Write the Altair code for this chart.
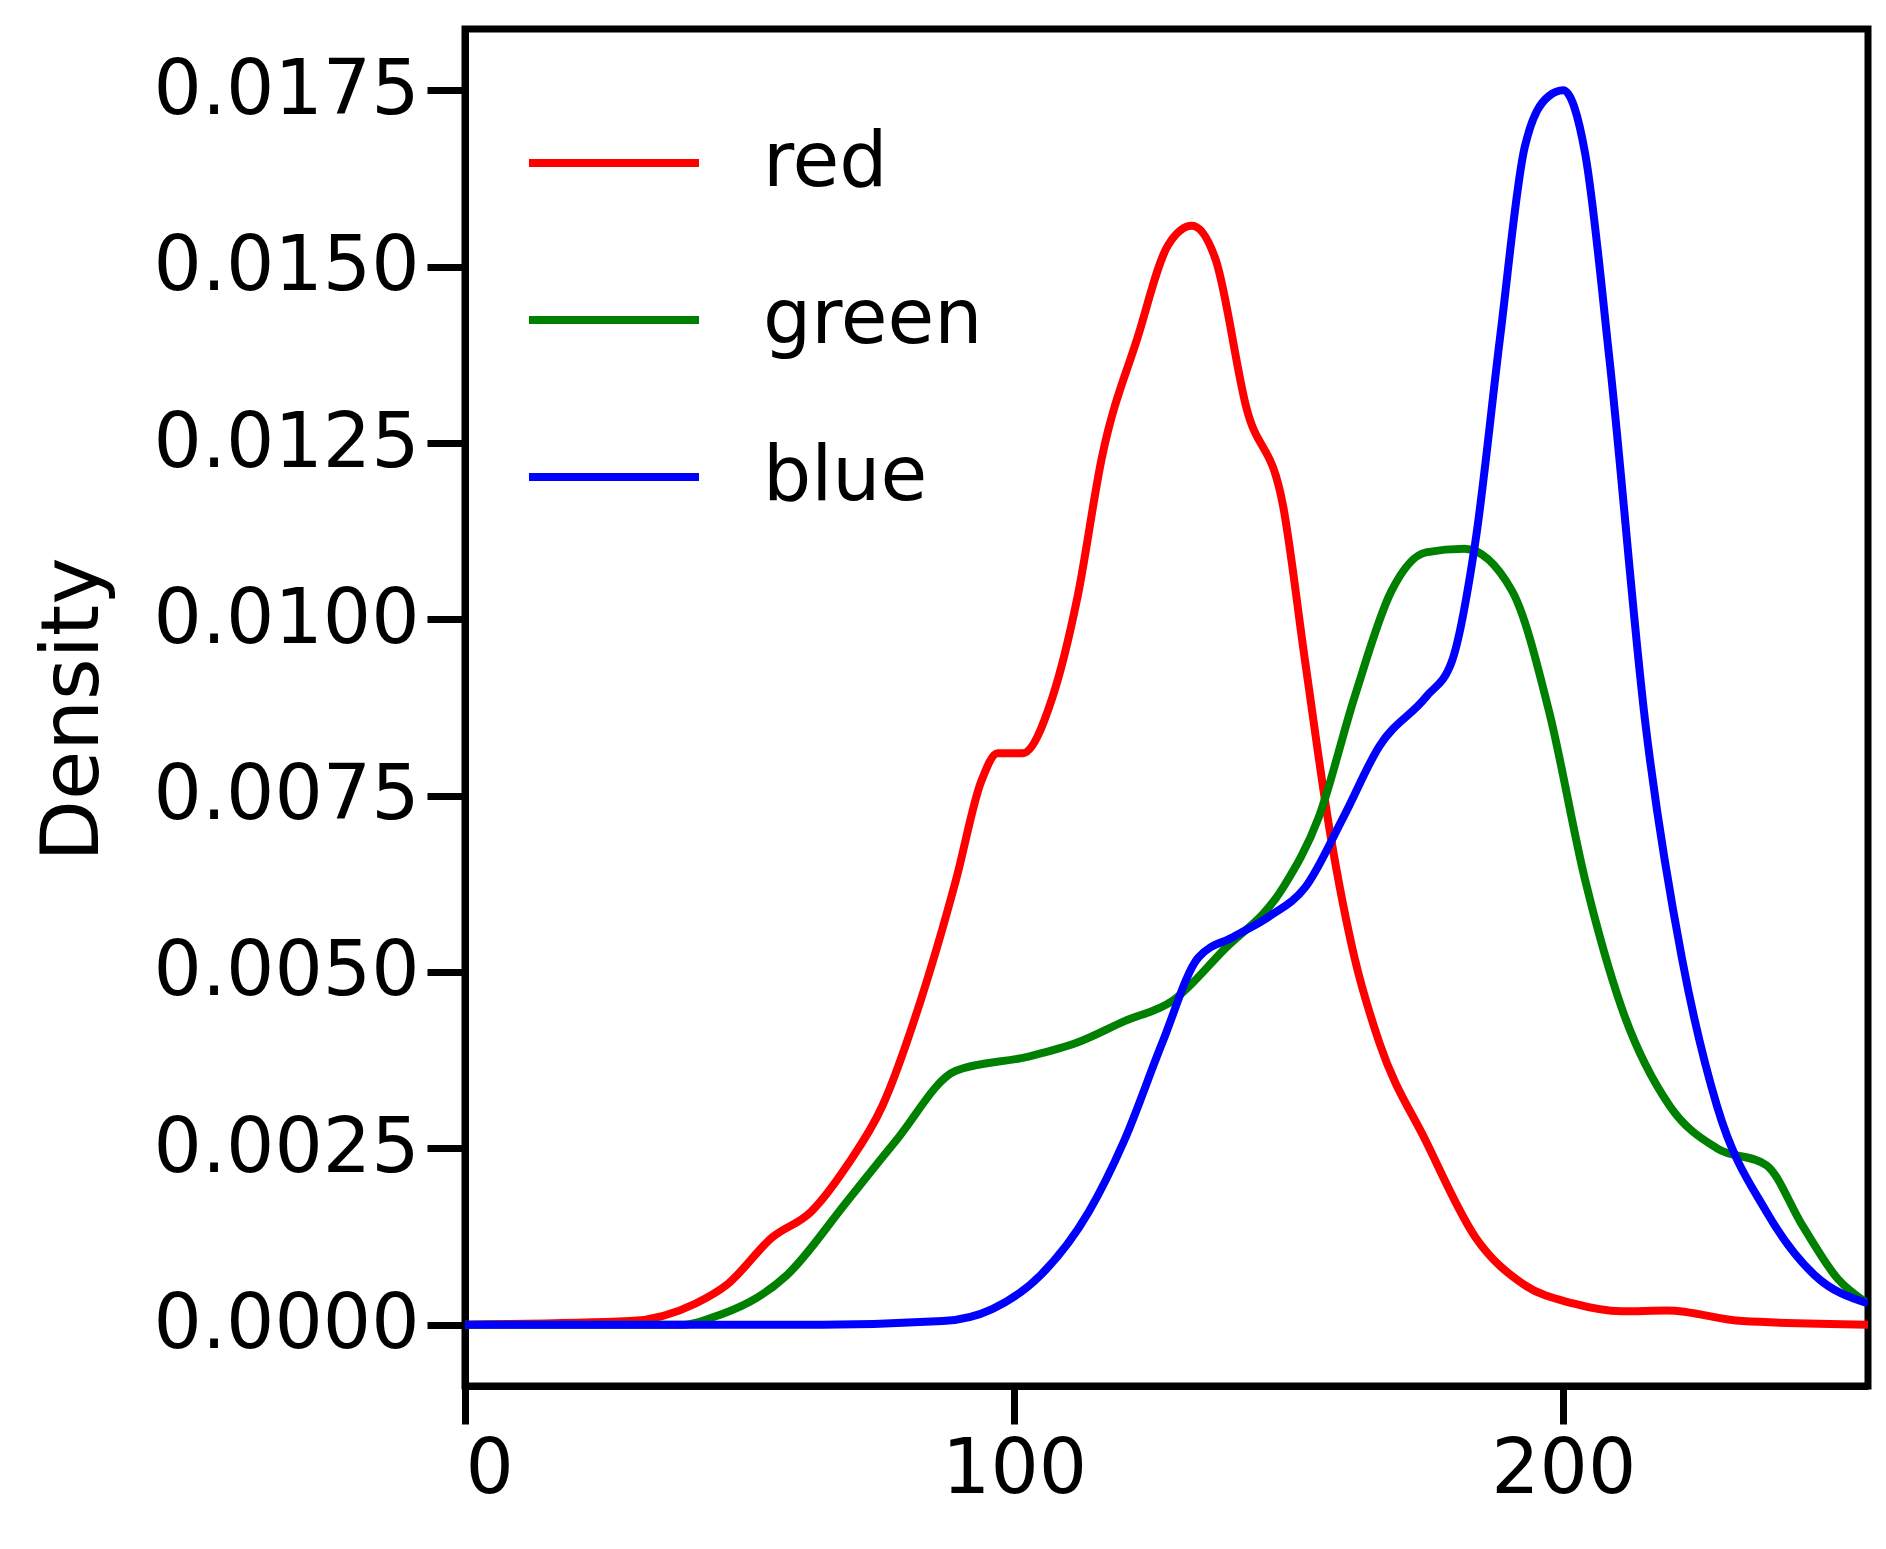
import pandas as pd
import altair as alt

red_x = [0, 30, 42, 47.6, 56, 63, 69.6, 76, 83, 89.4, 94, 97, 101.5, 107, 111.5, 116, 122.5, 128, 132.4,
         136.7, 142.3, 149, 153, 157.7, 162, 166.5, 175, 184, 193, 201.8, 210.6, 219, 232.6, 255.5]
red_y = [0, 0.00005, 0.0003, 0.00056, 0.00124, 0.0016, 0.00226, 0.0031, 0.0046, 0.0063, 0.0077, 0.0081,
         0.0081, 0.0089, 0.0103, 0.0123, 0.0140, 0.0153, 0.01558, 0.0151, 0.0130, 0.0116, 0.0094, 0.0069,
         0.0052, 0.0040, 0.0026, 0.00124, 0.00056, 0.0003, 0.00019, 0.0002, 0.00005, 0]
green_x = [0, 40, 45, 58.6, 69.6, 78.4, 89.4, 102.6, 111.5, 120, 129, 138, 149, 155.5, 162, 168.7, 175,
           182, 190.7, 197.4, 204, 210.6, 219.4, 228, 237, 243.6, 250, 255.5]
green_y = [0, 0, 0.0001, 0.0007, 0.00175, 0.0026, 0.0036, 0.0038, 0.0040, 0.0043, 0.0046, 0.0053, 0.0062,
           0.0072, 0.0089, 0.0104, 0.01095, 0.0110, 0.0104, 0.0087, 0.0063, 0.0045, 0.0031, 0.0025, 0.00226,
           0.0014, 0.00065, 0.0003]
blue_x = [0, 65, 87, 96, 104.8, 113.6, 120, 127, 133.5, 140, 146.7, 153, 160, 166.5, 175, 179.7, 184,
          188.5, 193, 197.4, 200, 204, 208.4, 215, 221.6, 228, 237, 245.8, 255.5]
blue_y = [0, 0, 0.00005, 0.00022, 0.0007, 0.0016, 0.0026, 0.0040, 0.0052, 0.0055, 0.0058, 0.0062, 0.0072,
          0.0082, 0.0089, 0.0094, 0.0111, 0.0140, 0.0167, 0.01742, 0.0175, 0.0166, 0.0137, 0.0085, 0.0052,
          0.0031, 0.0016, 0.0007, 0.0003]

series = ["red", "green", "blue"]
colors = ["#ff0000", "#008000", "#0000ff"]
y_ticks = [0, 0.0025, 0.005, 0.0075, 0.01, 0.0125, 0.015, 0.0175]

rows = []
for name, xs, ys in [("red", red_x, red_y), ("green", green_x, green_y), ("blue", blue_x, blue_y)]:
    for i, (a, b) in enumerate(zip(xs, ys)):
        rows.append({"channel": name, "value": a, "density": b, "order": i})
data = pd.DataFrame(rows)

font = "DejaVu Sans"

chart = alt.Chart(data).mark_line(strokeWidth=8, interpolate="monotone", clip=True).encode(
    x=alt.X("value:Q", scale=alt.Scale(domain=[0, 255.5], nice=False, zero=False),
            axis=alt.Axis(values=[0, 100, 200], title=None, grid=False, labelFontSize=76,
                          tickSize=38, tickWidth=7, labelPadding=8, labelFont=font, labelLimit=0)),
    y=alt.Y("density:Q", scale=alt.Scale(domain=[-0.00087, 0.01837], nice=False, zero=False),
            axis=alt.Axis(values=y_ticks, format=".4f", title="Density", grid=False, labelFontSize=76,
                          tickSize=38, tickWidth=7, labelPadding=8, labelFont=font, labelLimit=0,
                          titleFontSize=80, titleFont=font, titleFontWeight="normal",
                          titleX=-392, titleY=680, titleAlign="center", titleBaseline="middle")),
    color=alt.Color("channel:N", scale=alt.Scale(domain=series, range=colors), sort=series,
                    legend=alt.Legend(title=None, orient="none", legendX=60, legendY=45,
                                      symbolType="stroke", symbolSize=28900, symbolStrokeWidth=8,
                                      labelFontSize=76, labelFont=font, labelOffset=60, labelLimit=0,
                                      rowPadding=30)),
    order="order:Q",
).properties(
    width=1403, height=1357,
    autosize=alt.AutoSizeParams(type="none"),
    padding={"left": 457, "top": 21, "right": 10, "bottom": 140},
).configure_view(stroke="black", strokeWidth=7).configure_axis(
    domainColor="black", domainWidth=7, tickColor="black", labelColor="black"
)

chart.save("out.html", embed_options={"renderer": "svg", "actions": False})
